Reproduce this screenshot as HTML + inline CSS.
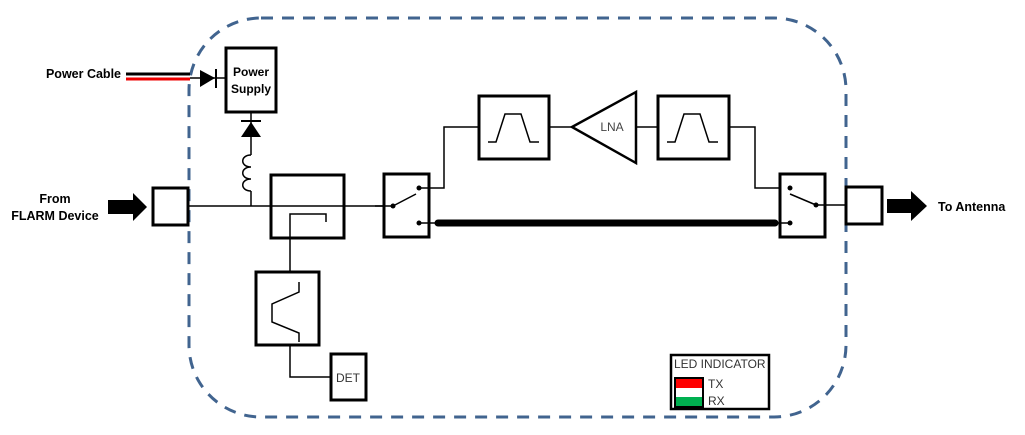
<!DOCTYPE html>
<html><head><style>
html,body{margin:0;padding:0;background:#fff;width:1025px;height:435px;overflow:hidden}
svg{display:block}
text{font-family:"Liberation Sans",sans-serif}
</style></head><body>
<svg width="1025" height="435" viewBox="0 0 1025 435" xmlns="http://www.w3.org/2000/svg">
<rect x="189" y="18" width="657" height="399" rx="72" ry="72" fill="none" stroke="#41648f" stroke-width="3" stroke-dasharray="12,9"/>
<!-- power cable -->
<text x="121" y="78" font-size="12.5" font-weight="bold" text-anchor="end">Power Cable</text>
<line x1="126" y1="74" x2="190" y2="74" stroke="#000" stroke-width="3"/>
<line x1="126" y1="79" x2="190" y2="79" stroke="#e00" stroke-width="3"/>
<line x1="190" y1="78" x2="226" y2="78" stroke="#000" stroke-width="1.5"/>
<polygon points="200,70 200,87 215,78" fill="#000"/>
<line x1="216" y1="69" x2="216" y2="88" stroke="#000" stroke-width="2"/>
<rect x="226" y="48" width="50" height="64" fill="#fff" stroke="#000" stroke-width="3"/>
<text x="251" y="76" font-size="12" font-weight="bold" text-anchor="middle">Power</text>
<text x="251" y="93" font-size="12" font-weight="bold" text-anchor="middle">Supply</text>
<!-- diode down -->
<line x1="251" y1="112" x2="251" y2="155" stroke="#000" stroke-width="1.5"/>
<line x1="241" y1="121" x2="261" y2="121" stroke="#000" stroke-width="2"/>
<polygon points="251,122 241,137 261,137" fill="#000"/>
<path d="M251,155 C240,155 240,167 251,167 C240,167 240,179 251,179 C240,179 240,191 251,191" fill="none" stroke="#000" stroke-width="1.5"/>
<line x1="251" y1="191" x2="251" y2="206" stroke="#000" stroke-width="1.5"/>
<!-- from flarm -->
<text x="55" y="203" font-size="12.5" font-weight="bold" text-anchor="middle">From</text>
<text x="55" y="220" font-size="12.5" font-weight="bold" text-anchor="middle">FLARM Device</text>
<polygon points="108,200 133,200 133,193 147,207 133,221 133,214 108,214" fill="#000"/>
<rect x="153" y="188" width="35" height="37" fill="#fff" stroke="#000" stroke-width="3"/>
<line x1="188" y1="206" x2="393" y2="206" stroke="#000" stroke-width="1.5"/>
<!-- coupler -->
<rect x="271" y="175" width="73" height="63" fill="none" stroke="#000" stroke-width="3"/>
<polyline points="290,272 290,214 326,214 326,222" fill="none" stroke="#000" stroke-width="1.5"/>
<rect x="256" y="272" width="63" height="73" fill="#fff" stroke="#000" stroke-width="3"/>
<polyline points="299,282 299,292 272,304 272,322 299,333 299,342" fill="none" stroke="#000" stroke-width="1.5"/>
<polyline points="290,345 290,377 331,377" fill="none" stroke="#000" stroke-width="1.5"/>
<rect x="331" y="354" width="35" height="46" fill="#fff" stroke="#000" stroke-width="3"/>
<text x="348" y="382" font-size="12" text-anchor="middle" fill="#333">DET</text>
<!-- switch 1 -->
<rect x="384" y="174" width="45" height="63" fill="#fff" stroke="#000" stroke-width="3"/>
<line x1="393" y1="206" x2="416" y2="194" stroke="#000" stroke-width="1.5"/>
<line x1="375" y1="206" x2="393" y2="206" stroke="#000" stroke-width="1.5"/>
<circle cx="393" cy="206" r="2.5"/><circle cx="419" cy="188" r="2.5"/><circle cx="419" cy="223" r="2.5"/>
<polyline points="419,188 444,188 444,127 478,127" fill="none" stroke="#000" stroke-width="1.5"/>
<line x1="419" y1="223" x2="436" y2="223" stroke="#000" stroke-width="1.5"/>
<line x1="438" y1="223" x2="775" y2="223" stroke="#000" stroke-width="7" stroke-linecap="round"/>
<!-- filters and LNA -->
<rect x="479" y="96" width="70" height="63" fill="#fff" stroke="#000" stroke-width="3"/>
<polyline points="488,142 496,142 505,114 521,114 530,142 539,142" fill="none" stroke="#000" stroke-width="1.5"/>
<line x1="549" y1="127" x2="572" y2="127" stroke="#000" stroke-width="1.5"/>
<polygon points="572,127 636,92 636,163" fill="#fff" stroke="#000" stroke-width="2.5"/>
<text x="612" y="131" font-size="12" text-anchor="middle" fill="#444">LNA</text>
<line x1="636" y1="127" x2="658" y2="127" stroke="#000" stroke-width="1.5"/>
<rect x="658" y="96" width="71" height="63" fill="#fff" stroke="#000" stroke-width="3"/>
<polyline points="667,142 675,142 684,114 700,114 709,142 718,142" fill="none" stroke="#000" stroke-width="1.5"/>
<polyline points="729,127 755,127 755,188 790,188" fill="none" stroke="#000" stroke-width="1.5"/>
<!-- switch 2 -->
<rect x="780" y="174" width="45" height="63" fill="#fff" stroke="#000" stroke-width="3"/>
<line x1="790" y1="194" x2="816" y2="205" stroke="#000" stroke-width="1.5"/>
<circle cx="790" cy="188" r="2.5"/><circle cx="790" cy="223" r="2.5"/><circle cx="816" cy="205" r="2.5"/>
<line x1="776" y1="223" x2="790" y2="223" stroke="#000" stroke-width="1.5"/>
<line x1="816" y1="205" x2="845" y2="205" stroke="#000" stroke-width="1.5"/>
<rect x="846" y="187" width="36" height="37" fill="#fff" stroke="#000" stroke-width="3"/>
<polygon points="887,199 911,199 911,191 927,206 911,221 911,213 887,213" fill="#000"/>
<text x="938" y="211" font-size="12.5" font-weight="bold">To Antenna</text>
<!-- LED -->
<rect x="671" y="355" width="98" height="54" fill="#fff" stroke="#000" stroke-width="2.5"/>
<text x="674" y="368" font-size="12" fill="#333">LED INDICATOR</text>
<rect x="676" y="379" width="26" height="9" fill="#f00"/>
<rect x="676" y="388" width="26" height="9" fill="#fff"/>
<rect x="676" y="397" width="26" height="9" fill="#00b050"/>
<rect x="675" y="378" width="28" height="29" fill="none" stroke="#000" stroke-width="2"/>
<text x="708" y="388" font-size="12" fill="#333">TX</text>
<text x="708" y="405" font-size="12" fill="#333">RX</text>
</svg>
</body></html>
